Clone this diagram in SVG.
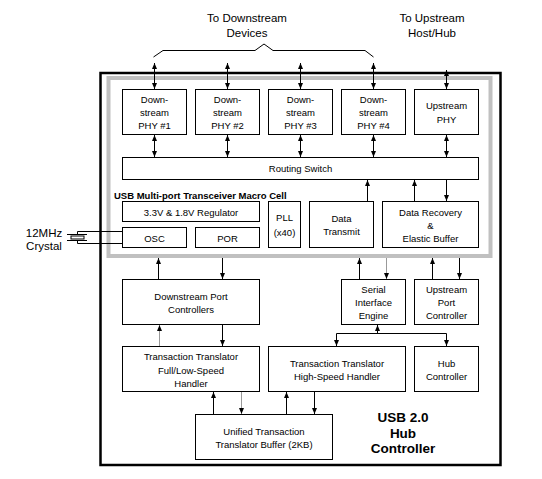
<svg xmlns="http://www.w3.org/2000/svg" width="542" height="479" viewBox="0 0 542 479">
<defs>
<marker id="ah" viewBox="0 0 6 5" refX="6" refY="2.5" markerWidth="6" markerHeight="5" markerUnits="userSpaceOnUse" orient="auto-start-reverse"><path d="M0,0 L6,2.5 L0,5 z" fill="#000"/></marker>
<style>
.box{fill:#fff;stroke:#000;stroke-width:1}
.t{font-family:"Liberation Sans",Arial,sans-serif;font-size:9.5px;fill:#000;text-anchor:middle}
.lab{font-family:"Liberation Sans",Arial,sans-serif;font-size:11.5px;fill:#000;text-anchor:middle}
.b{font-family:"Liberation Sans",Arial,sans-serif;font-weight:bold;fill:#000}
.c{fill:none;stroke:#000;stroke-width:1}
.g{stroke:#999}
.a{marker-end:url(#ah)}
.d{marker-start:url(#ah);marker-end:url(#ah)}
</style>
</defs>
<rect width="542" height="479" fill="#fff"/>
<rect id="hub" x="100.5" y="73" width="400" height="392" fill="none" stroke="#000" stroke-width="2.5"/>
<rect id="macro" x="108.5" y="78" width="382" height="178" fill="none" stroke="#c0c0c0" stroke-width="4"/>

<g id="labels">
<text class="lab" x="247" y="22">To Downstream</text>
<text class="lab" x="247" y="37">Devices</text>
<text class="lab" x="432" y="22">To Upstream</text>
<text class="lab" x="432" y="37">Host/Hub</text>
<text class="lab" x="44" y="237">12MHz</text>
<text class="lab" x="44" y="249.5">Crystal</text>
<text class="b" x="114" y="198.5" font-size="9.5">USB Multi-port Transceiver Macro Cell</text>
<text class="b" x="403" y="422" font-size="13.5" text-anchor="middle">USB 2.0</text>
<text class="b" x="403" y="437.5" font-size="13.5" text-anchor="middle">Hub</text>
<text class="b" x="403" y="453" font-size="13.5" text-anchor="middle">Controller</text>
</g>

<g id="connectors">
<path class="c" d="M153.5,57 L163,50.5 L255,50.5 L264,44 L273,50.5 L365,50.5 L373.5,57" stroke="#444"/>
<line class="c d" x1="154.5" y1="63" x2="154.5" y2="89"/>
<line class="c d" x1="227.5" y1="63" x2="227.5" y2="89"/>
<line class="c d" x1="300.5" y1="63" x2="300.5" y2="89"/>
<line class="c d" x1="373.5" y1="63" x2="373.5" y2="89"/>
<line class="c d" x1="446.5" y1="70" x2="446.5" y2="89"/>
<line class="c d" x1="154.5" y1="135" x2="154.5" y2="157"/>
<line class="c d" x1="227.5" y1="135" x2="227.5" y2="157"/>
<line class="c d" x1="300.5" y1="135" x2="300.5" y2="157"/>
<line class="c d" x1="373.5" y1="135" x2="373.5" y2="157"/>
<line class="c d" x1="446.5" y1="135" x2="446.5" y2="157"/>
<line class="c a" x1="367.5" y1="201" x2="367.5" y2="180"/>
<line class="c a" x1="414.5" y1="201" x2="414.5" y2="180"/>
<line class="c a" x1="446.5" y1="180" x2="446.5" y2="201"/>
<line class="c a" x1="158.5" y1="279" x2="158.5" y2="258"/>
<line class="c a" x1="222.5" y1="258" x2="222.5" y2="279"/>
<line class="c a" x1="359.5" y1="279" x2="359.5" y2="258"/>
<line class="c g a" x1="386.5" y1="258" x2="386.5" y2="279"/>
<line class="c a" x1="432.5" y1="279" x2="432.5" y2="258"/>
<line class="c a" x1="459.5" y1="258" x2="459.5" y2="279"/>
<line class="c a" x1="377.5" y1="333.5" x2="377.5" y2="325"/>
<path class="c" d="M336.5,346 L336.5,333.5 L446.5,333.5 L446.5,346"/>
<line class="c a" x1="336.5" y1="340" x2="336.5" y2="346"/>
<line class="c a" x1="446.5" y1="340" x2="446.5" y2="346"/>
<line class="c g a" x1="159.5" y1="346" x2="159.5" y2="325"/>
<line class="c a" x1="222.5" y1="325" x2="222.5" y2="346"/>
<line class="c a" x1="213.5" y1="414" x2="213.5" y2="392"/>
<line class="c g a" x1="241.5" y1="392" x2="241.5" y2="414"/>
<line class="c a" x1="286.5" y1="414" x2="286.5" y2="392"/>
<line class="c a" x1="314.5" y1="392" x2="314.5" y2="414"/>
<path class="c" d="M122,231.5 L77.5,231.5 L77.5,234.5 M67,234.5 L87,234.5 M67,240.5 L87,240.5 M77.5,240.5 L77.5,243.5 L122,243.5"/>
<rect x="71" y="236" width="13" height="3" fill="none" stroke="#000" stroke-width="1"/>
</g>

<g id="phy1"><rect class="box" x="122.5" y="89.5" width="64" height="45"/><text class="t" x="154.5" y="103">Down-</text><text class="t" x="154.5" y="116">stream</text><text class="t" x="154.5" y="128.5">PHY #1</text></g>
<g id="phy2"><rect class="box" x="195.5" y="89.5" width="64" height="45"/><text class="t" x="227.5" y="103">Down-</text><text class="t" x="227.5" y="116">stream</text><text class="t" x="227.5" y="128.5">PHY #2</text></g>
<g id="phy3"><rect class="box" x="268.5" y="89.5" width="64" height="45"/><text class="t" x="300.5" y="103">Down-</text><text class="t" x="300.5" y="116">stream</text><text class="t" x="300.5" y="128.5">PHY #3</text></g>
<g id="phy4"><rect class="box" x="341.5" y="89.5" width="64" height="45"/><text class="t" x="373.5" y="103">Down-</text><text class="t" x="373.5" y="116">stream</text><text class="t" x="373.5" y="128.5">PHY #4</text></g>
<g id="uphy"><rect class="box" x="414.5" y="89.5" width="64" height="45"/><text class="t" x="446.5" y="109">Upstream</text><text class="t" x="446.5" y="122.5">PHY</text></g>
<g id="routing"><rect class="box" x="122.5" y="157.5" width="356" height="22"/><text class="t" x="300.5" y="171.8">Routing Switch</text></g>
<g id="regulator"><rect class="box" x="122.5" y="201.5" width="137" height="20"/><text class="t" x="191" y="215.8">3.3V &amp; 1.8V Regulator</text></g>
<g id="osc"><rect class="box" x="122.5" y="227.5" width="64" height="20"/><text class="t" x="154.5" y="241.8">OSC</text></g>
<g id="por"><rect class="box" x="195.5" y="227.5" width="64" height="20"/><text class="t" x="227.5" y="241.8">POR</text></g>
<g id="pll"><rect class="box" x="268.5" y="201.5" width="32" height="46"/><text class="t" x="284.5" y="221.2">PLL</text><text class="t" x="284.5" y="235.8">(x40)</text></g>
<g id="dtx"><rect class="box" x="309.5" y="201.5" width="64" height="46"/><text class="t" x="341.5" y="221.5">Data</text><text class="t" x="341.5" y="235.3">Transmit</text></g>
<g id="drx"><rect class="box" x="382.5" y="201.5" width="96" height="46"/><text class="t" x="430.5" y="216.2">Data Recovery</text><text class="t" x="430.5" y="229.2">&amp;</text><text class="t" x="430.5" y="241.8">Elastic Buffer</text></g>
<g id="dpc"><rect class="box" x="122.5" y="279.5" width="137" height="45"/><text class="t" x="191" y="300.2">Downstream Port</text><text class="t" x="191" y="312.5">Controllers</text></g>
<g id="sie"><rect class="box" x="341.5" y="279.5" width="64" height="45"/><text class="t" x="373.5" y="292.8">Serial</text><text class="t" x="373.5" y="305.8">Interface</text><text class="t" x="373.5" y="318.8">Engine</text></g>
<g id="upc"><rect class="box" x="414.5" y="279.5" width="64" height="45"/><text class="t" x="446.5" y="292.8">Upstream</text><text class="t" x="446.5" y="305.8">Port</text><text class="t" x="446.5" y="318.8">Controller</text></g>
<g id="ttfl"><rect class="box" x="122.5" y="346.5" width="137" height="45"/><text class="t" x="191" y="359.5">Transaction Translator</text><text class="t" x="191" y="373.5">Full/Low-Speed</text><text class="t" x="191" y="386.8">Handler</text></g>
<g id="tths"><rect class="box" x="268.5" y="346.5" width="137" height="45"/><text class="t" x="337" y="366.8">Transaction Translator</text><text class="t" x="337" y="379.5">High-Speed Handler</text></g>
<g id="hubc"><rect class="box" x="414.5" y="346.5" width="64" height="45"/><text class="t" x="446.5" y="366.8">Hub</text><text class="t" x="446.5" y="379.5">Controller</text></g>
<g id="uttb"><rect class="box" x="195.5" y="414.5" width="137" height="45"/><text class="t" x="264" y="434.5">Unified Transaction</text><text class="t" x="264" y="447.8">Translator Buffer (2KB)</text></g>
</svg>
